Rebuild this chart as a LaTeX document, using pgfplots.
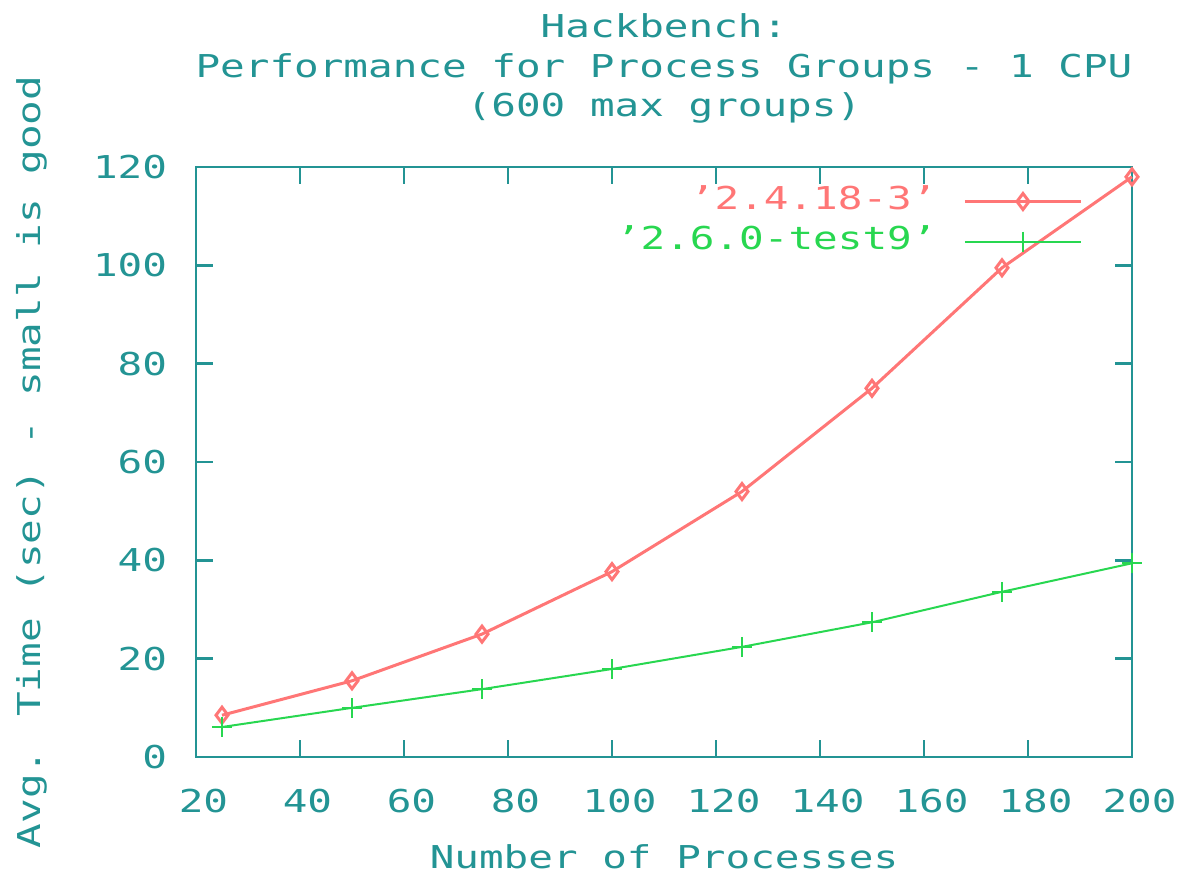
\documentclass[border=0pt]{standalone}
\usepackage{fontspec}
\setmainfont[FakeStretch=1.3]{DejaVu Sans Mono}
\usepackage{pgfplots}
\pgfplotsset{compat=1.18}
\definecolor{gpaxis}{RGB}{35,148,148}
\definecolor{gpred}{RGB}{255,118,118}
\definecolor{gpgreen}{RGB}{40,215,80}
\begin{document}
\fontsize{12.6pt}{15pt}\selectfont
\begin{tikzpicture}
\begin{axis}[
  scale only axis,
  width=374.4pt, height=236pt,
  xmin=20, xmax=200, ymin=0, ymax=120,
  xtick={20,40,...,200}, ytick={0,20,...,120},
  axis line style={gpaxis, line width=1pt},
  tick style={gpaxis, line width=1pt},
  tick align=inside,
  major tick length=6.8pt,
  xtick pos=both, ytick pos=both,
  /pgf/number format/assume math mode=true,
  ticklabel style={text=gpaxis, inner sep=0pt},
  xticklabel style={anchor=north, yshift=-12.8pt, xshift=3pt},
  yticklabel style={anchor=east, xshift=-11.4pt},
  clip=false,
  legend plot pos=right,
  legend cell align=right,
  legend style={at={(rel axis cs:1,1)}, anchor=north east, xshift=-19.6pt, yshift=-8.6pt,
    draw=none, fill=none, inner sep=0pt, column sep=10.8pt, row sep=6pt,
    nodes={inner sep=0pt, text height=8pt, text depth=2pt}},
  legend image code/.code={\draw[#1, mark repeat=2, mark phase=2] plot coordinates {(0pt,0pt) (23.2pt,0pt) (46.4pt,0pt)};},
]
\addplot[gpred, line width=1.2pt, mark=diamond, mark size=3.2pt] coordinates {
  (25,8.5) (50,15.5) (75,25) (100,37.7) (125,54) (150,75) (175,99.5) (200,118)
};
\addlegendentry{\textcolor{gpred}{'2.4.18-3'}}
\addplot[gpgreen, line width=0.8pt, mark=+, mark size=4pt] coordinates {
  (25,6.1) (50,10) (75,13.8) (100,17.9) (125,22.4) (150,27.4) (175,33.6) (200,39.4)
};
\addlegendentry{\textcolor{gpgreen}{'2.6.0-test9'}}
\coordinate (sw) at (rel axis cs:0,0);
\node[anchor=base, text=gpaxis, inner sep=0pt] at ([yshift=52pt]rel axis cs:0.5,1) {Hackbench:};
\node[anchor=base, text=gpaxis, inner sep=0pt] at ([yshift=36pt]rel axis cs:0.5,1) {Performance for Process Groups - 1 CPU};
\node[anchor=base, text=gpaxis, inner sep=0pt] at ([yshift=20.4pt]rel axis cs:0.5,1) {(600 max groups)};
\node[anchor=base, text=gpaxis, inner sep=0pt] at ([yshift=-44.4pt]rel axis cs:0.5,0) {Number of Processes};
\node[anchor=base, rotate=90, text=gpaxis, inner sep=0pt] at ([xshift=-62pt]rel axis cs:0,0.5) {Avg. Time (sec) - small is good};
\end{axis}
\pgfresetboundingbox
\path (sw) ++(-78.4pt,-46.4pt) rectangle ++(474.4pt,349.2pt);
\end{tikzpicture}
\end{document}
